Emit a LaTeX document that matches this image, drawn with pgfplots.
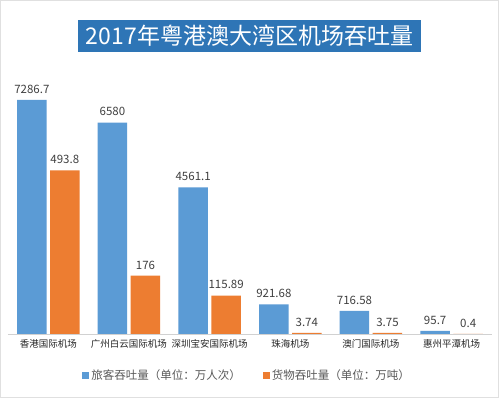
\documentclass[border=0pt]{standalone}
\usepackage{fontspec}
\setmainfont{Noto Sans CJK SC}
\usepackage{pgfplots}
\pgfplotsset{compat=1.18}
\definecolor{pblue}{HTML}{5B9BD5}
\definecolor{porange}{HTML}{ED7D31}
\definecolor{tblue}{HTML}{2E75B6}
\definecolor{lblgray}{HTML}{404040}
\definecolor{leggray}{HTML}{595959}
\begin{document}
\begin{tikzpicture}[x=1pt,y=1pt]
\useasboundingbox (0,0) rectangle (499,398);
\fill[white] (0,0) rectangle (499,398);
\draw[black!12] (0.5,0.5) rectangle (498.5,397.5);
\node[fill=tblue, text=white, font=\fontsize{23}{23}\selectfont, minimum width=343, minimum height=32, inner sep=0] at (249.5,362) {2017年粤港澳大湾区机场吞吐量};
\pgfplotsset{
  common/.style={
    at={(8pt,64pt)}, anchor=south west,
    scale only axis, width=484pt, height=257pt,
    xmin=-0.5, xmax=5.5, ymin=0,
    ybar, bar width=29.5pt,
    point meta=explicit symbolic,
    nodes near coords={\pgfplotspointmeta},
    nodes near coords style={font=\fontsize{11.5}{12}\selectfont, text=lblgray, yshift=3pt},
  }
}
\begin{axis}[common, ymax=8000,
  axis y line=none, axis x line*=bottom,
  x axis line style={draw=black!18, -},
  xtick=data, major tick length=0pt,
  xticklabels={香港国际机场,广州白云国际机场,深圳宝安国际机场,珠海机场,澳门国际机场,惠州平潭机场},
  xticklabel style={font=\fontsize{9.5}{10}\selectfont, text=black!85, yshift=-2pt},
]
\addplot[fill=pblue, draw=none, bar shift=-16.5pt] coordinates {
 (0,7286.7) [7286.7] (1,6580) [6580] (2,4561.1) [4561.1]
 (3,921.68) [921.68] (4,716.58) [716.58] (5,95.7) [95.7]};
\end{axis}
\begin{axis}[common, ymax=776, hide axis,
  legend columns=2,
  legend style={at={(0.494,-0.16)}, anchor=center, draw=none, fill=none,
    font=\fontsize{11.5}{12}\selectfont, text=leggray,
    /tikz/every even column/.append style={column sep=20pt}},
  legend image code/.code={\fill[#1] (0pt,-3.5pt) rectangle (7pt,3.5pt);},
]
\addlegendimage{fill=pblue, draw=none}
\addlegendentry{旅客吞吐量（单位：万人次）}
\addplot[fill=porange, draw=none, bar shift=16.5pt] coordinates {
 (0,493.8) [493.8] (1,176) [176] (2,115.89) [115.89]
 (3,3.74) [3.74] (4,3.75) [3.75] (5,0.4) [0.4]};
\addlegendentry{货物吞吐量（单位：万吨）}
\end{axis}
\end{tikzpicture}
\end{document}
